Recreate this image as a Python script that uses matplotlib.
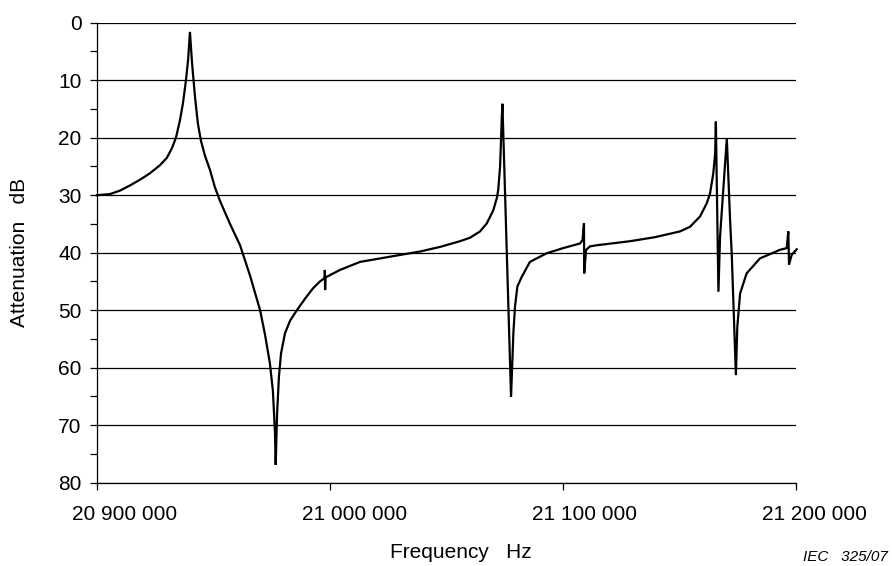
import matplotlib
matplotlib.use('Agg')
import matplotlib.pyplot as plt
import matplotlib.transforms as mtransforms
from matplotlib.ticker import MultipleLocator

plt.rcParams['font.family'] = ['Liberation Sans', 'DejaVu Sans']

# frequency in kHz, attenuation in dB
freq_khz = [
    20900.0, 20905.6, 20909.9, 20914.2, 20918.5, 20922.7, 20927.0, 20930.0,
    20932.2, 20933.9, 20935.6, 20936.9, 20938.2, 20939.1, 20939.9,
    20940.8, 20942.1, 20943.3, 20944.6, 20946.4, 20948.5, 20950.6, 20952.8,
    20957.1, 20961.4, 20965.7, 20970.0, 20972.1, 20974.2, 20975.5, 20976.4,
    20976.7,
    20977.3, 20978.1, 20979.0, 20980.7, 20982.9, 20985.8, 20989.3, 20992.7,
    20995.7, 20997.7, 20997.8, 20997.9, 20998.1, 21004.3, 21012.9,
    21021.5, 21030.0, 21038.6, 21047.2, 21055.8, 21060.1, 21064.4, 21067.3,
    21070.1, 21071.6, 21072.2, 21073.0, 21073.3, 21073.7, 21074.0,
    21077.7, 21078.7, 21079.4, 21080.4, 21082.3, 21085.8, 21093.0, 21100.1,
    21107.3, 21108.4, 21109.0, 21109.1, 21109.9, 21111.6, 21114.6, 21128.8,
    21139.5, 21150.2, 21154.5, 21158.8, 21161.7, 21163.1, 21164.5, 21165.3,
    21165.6, 21166.7, 21167.4, 21170.3, 21171.7, 21172.4, 21174.2,
    21174.8, 21176.0, 21178.8, 21184.5, 21193.1, 21196.0, 21196.7, 21197.0,
    21198.1, 21200.3,
]
atten_db = [
    30.0, 29.8, 29.2, 28.3, 27.3, 26.2, 24.8, 23.5,
    21.8, 20.0, 17.0, 14.0, 10.0, 6.5, 1.6,
    7.0, 13.0, 17.5, 20.5, 23.2, 25.6, 28.6, 31.0,
    35.0, 38.7, 44.0, 50.0, 54.2, 59.2, 64.0, 71.4,
    76.9,
    68.0, 61.5, 57.5, 54.0, 51.8, 50.0, 48.0, 46.2,
    45.0, 44.4, 43.0, 46.5, 44.3, 43.0, 41.6,
    41.0, 40.4, 39.8, 39.0, 38.0, 37.4, 36.3, 34.9,
    32.6, 30.5, 29.1, 25.0, 21.6, 16.9, 14.1,
    65.1, 54.0, 49.4, 45.9, 44.2, 41.6, 40.1, 39.2,
    38.4, 37.8, 34.9, 43.6, 39.5, 38.9, 38.7, 38.0,
    37.3, 36.3, 35.5, 33.7, 31.4, 29.7, 26.2, 22.7,
    17.2, 46.8, 37.2, 20.1, 34.3, 40.1, 61.3,
    52.9, 47.1, 43.6, 41.0, 39.5, 39.2, 36.3, 42.1,
    40.4, 39.4,
]

x_ticks_khz = [20900, 21000, 21100, 21200]
x_tick_labels = ['20 900 000', '21 000 000', '21 100 000', '21 200 000']
y_ticks = [0, 10, 20, 30, 40, 50, 60, 70, 80]

fig = plt.figure(figsize=(8.92, 5.66), dpi=100)
ax = fig.add_axes([0.1087, 0.1472, 0.7837, 0.8127])

ax.plot(freq_khz, atten_db, color='black', linewidth=1.6, solid_joinstyle='miter',
        clip_on=False, zorder=3)

ax.set_xlim(20900, 21200)
ax.set_ylim(80, 0)

ax.set_yticks(y_ticks)
ax.yaxis.set_minor_locator(MultipleLocator(5))
ax.set_xticks(x_ticks_khz)
ax.set_xticklabels(x_tick_labels)

ax.grid(axis='y', which='major', color='black', linewidth=0.9)
ax.set_axisbelow(True)

for s in ['top', 'right']:
    ax.spines[s].set_visible(False)
ax.spines['left'].set_linewidth(0.9)
ax.spines['bottom'].set_linewidth(0.9)

ax.tick_params(axis='y', which='both', direction='out', length=5, width=0.9,
               labelsize=15, pad=6)
ax.tick_params(axis='x', which='major', direction='out', length=5, width=0.9,
               labelsize=15, pad=11)

# tick labels sit a bit to the right of their ticks in the original
for i, lab in enumerate(ax.get_xticklabels()):
    dx = (28 - 3.3 * i) / 100.0
    lab.set_transform(lab.get_transform() +
                      mtransforms.ScaledTranslation(dx, 0, fig.dpi_scale_trans))

fig.text(20 / 892, 1 - 252 / 566, 'Attenuation   dB', rotation=90,
         ha='center', va='center', fontsize=15)
fig.text(461 / 892, 1 - 553 / 566, 'Frequency   Hz',
         ha='center', va='center', fontsize=15)
fig.text(803 / 892, 1 - 557 / 566, 'IEC   325/07', style='italic',
         ha='left', va='center', fontsize=11)

plt.savefig('out.png', dpi=100)
